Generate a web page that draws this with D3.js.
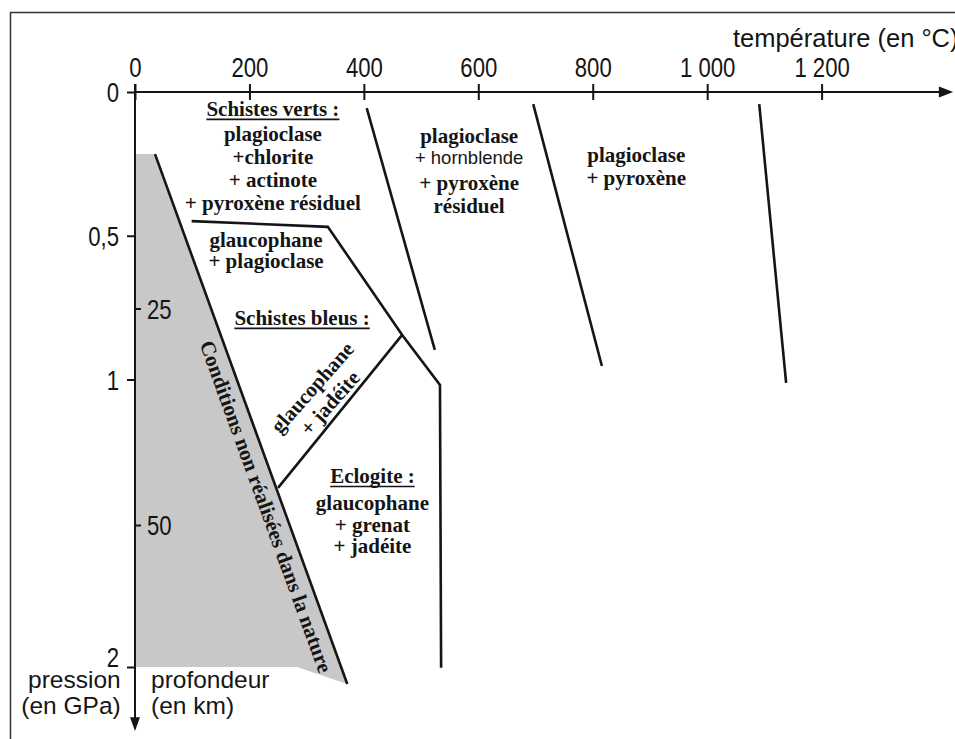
<!DOCTYPE html>
<html><head><meta charset="utf-8">
<script src="https://cdn.jsdelivr.net/npm/d3@7"></script>
<style>body{margin:0;background:#fff} svg{display:block}</style>
</head><body><svg id="c" width="955" height="739"></svg>
<script>
// ---- data (temperature °C, pressure GPa) ----
const tempTicks = [0, 200, 400, 600, 800, 1000, 1200];
const tempTickLabels = ["0", "200", "400", "600", "800", "1 000", "1 200"];
const pressTicks = [0, 0.5, 1, 2];
const pressTickLabels = ["0", "0,5", "1", "2"];
const depthTicks = [25, 50];

const grayZone = [[0, 0.216], [35, 0.216], [371, 2.059], [283, 2.0], [0, 2.0]];
const limitLine = [[35, 0.216], [371, 2.059]];
const vertsBoundary = [[99, 0.449], [337, 0.469], [467, 0.845], [533, 1.019], [535, 2.003]];
const bleusBoundary = [[467, 0.845], [250, 1.377]];
const isoA = [[405, 0.056], [524, 0.897]];
const isoB = [[696, 0.042], [816, 0.953]];
const isoC = [[1091, 0.042], [1138, 1.012]];

// label anchors [T, P, text, kind]
const serifLabels = [
  [241, 0.083, "Schistes verts :", "u"],
  [241, 0.172, "plagioclase", ""],
  [241, 0.250, "+chlorite", ""],
  [241, 0.330, "+ actinote", ""],
  [241, 0.410, "+ pyroxène résiduel", ""],
  [229, 0.539, "glaucophane", ""],
  [229, 0.612, "+ plagioclase", ""],
  [584, 0.177, "plagioclase", ""],
  [584, 0.250, "+ hornblende", "sans"],
  [584, 0.341, "+ pyroxène", ""],
  [584, 0.421, "résiduel", ""],
  [876, 0.243, "plagioclase", ""],
  [876, 0.323, "+ pyroxène", ""],
  [292, 0.810, "Schistes bleus :", "u"],
  [415, 1.360, "Eclogite :", "u"],
  [415, 1.454, "glaucophane", ""],
  [415, 1.530, "+ grenat", ""],
  [415, 1.603, "+ jadéite", ""]
];
const rotLabels = [
  [310, 1.028, "glaucophane"],
  [341, 1.082, "+ jadéite"]
];
const limitText = "Conditions non réalisées dans la nature";

// ---- drawing ----
const svg = d3.select("#c");
const x = d3.scaleLinear().domain([0, 1200]).range([135, 821.6]);
const y = d3.scaleLinear().domain([0, 2]).range([92, 667]);
const depth = d3.scaleLinear().domain([0, 50]).range([92, 525]);
const SANS = "'Liberation Sans', Arial, Helvetica, sans-serif";
const SERIF = "'Liberation Serif', 'Times New Roman', serif";
const INK = "#151515";

function squeeze(sel, k) {
  sel.each(function () {
    const w = this.getComputedTextLength();
    d3.select(this).attr("textLength", w * k).attr("lengthAdjust", "spacingAndGlyphs");
  });
}

// frame
svg.append("rect").attr("x", 10.5).attr("y", 12.5).attr("width", 960).attr("height", 740)
  .attr("fill", "none").attr("stroke", "#333").attr("stroke-width", 1.5);

const line = d3.line().x(d => x(d[0])).y(d => y(d[1]));

// gray zone
svg.append("path").attr("d", line(grayZone) + "Z").attr("fill", "#c8c8c8").attr("stroke", "none");

// boundaries
[limitLine, vertsBoundary, bleusBoundary, isoA, isoB, isoC].forEach(pts => {
  svg.append("path").attr("d", line(pts)).attr("fill", "none").attr("stroke", INK)
    .attr("stroke-width", 2.6).attr("stroke-linejoin", "miter");
});

// x axis
svg.append("line").attr("x1", x(0)).attr("x2", x(1410)).attr("y1", y(0)).attr("y2", y(0))
  .attr("stroke", INK).attr("stroke-width", 2);
svg.append("path").attr("d", `M${x(1430)},${y(0)}L${x(1405)},${y(0) - 5.5}L${x(1405)},${y(0) + 5.5}Z`).attr("fill", INK);
const gx = svg.append("g").attr("transform", `translate(0,${y(0)})`)
  .call(d3.axisTop(x).tickValues(tempTicks).tickFormat((d, i) => tempTickLabels[i]).tickSize(8).tickPadding(7));
gx.select(".domain").remove();
gx.selectAll(".tick line").attr("y1", 8).attr("y2", -8).attr("stroke", INK).attr("stroke-width", 2);
gx.selectAll(".tick text").attr("font-family", SANS).attr("font-size", 27).attr("fill", INK).call(squeeze, 0.82);

// y axis (pressure)
svg.append("line").attr("x1", x(0)).attr("x2", x(0)).attr("y1", y(-0.028)).attr("y2", y(2.19))
  .attr("stroke", INK).attr("stroke-width", 2);
svg.append("path").attr("d", `M${x(0)},${y(2.223)}L${x(0) - 5},${y(2.175)}L${x(0) + 5},${y(2.175)}Z`).attr("fill", INK);
const gy = svg.append("g").attr("transform", `translate(${x(0)},0)`)
  .call(d3.axisLeft(y).tickValues(pressTicks).tickFormat((d, i) => pressTickLabels[i]).tickSize(8).tickPadding(8));
gy.select(".domain").remove();
gy.selectAll(".tick line").attr("stroke", INK).attr("stroke-width", 2);
gy.selectAll(".tick text").attr("font-family", SANS).attr("font-size", 27).attr("fill", INK)
  .attr("dy", d => d === 2 ? "-0.02em" : "0.36em").call(squeeze, 0.82);

// depth axis
const gd = svg.append("g").attr("transform", `translate(${x(0)},0)`)
  .call(d3.axisRight(depth).tickValues(depthTicks).tickSize(6).tickPadding(6));
gd.select(".domain").remove();
gd.selectAll(".tick line").attr("stroke", INK).attr("stroke-width", 2);
gd.selectAll(".tick text").attr("font-family", SANS).attr("font-size", 27).attr("fill", INK)
  .attr("dy", "0.36em").call(squeeze, 0.82);

// axis titles
function sansText(px, py, str, anchor, size) {
  return svg.append("text").attr("x", px).attr("y", py).attr("text-anchor", anchor)
    .attr("font-family", SANS).attr("font-size", size).attr("fill", INK).text(str);
}
sansText(x(1045), y(-0.157), "température (en °C)", "start", 25.5);
sansText(x(-25), y(2.073), "pression", "end", 24.5);
sansText(x(-25), y(2.162), "(en GPa)", "end", 24.5);
sansText(x(28), y(2.073), "profondeur", "start", 24.5);
sansText(x(28), y(2.162), "(en km)", "start", 24.5);

// region labels
serifLabels.forEach(([T, P, str, kind]) => {
  const t = svg.append("text").attr("x", x(T)).attr("y", y(P)).attr("text-anchor", "middle")
    .attr("fill", INK).text(str);
  if (kind === "sans") {
    t.attr("font-family", SANS).attr("font-size", 18.5);
  } else {
    t.attr("font-family", SERIF).attr("font-weight", "bold").attr("font-size", 21);
  }
  if (kind === "u") {
    const w = t.node().getComputedTextLength();
    svg.append("line").attr("x1", x(T) - w / 2).attr("x2", x(T) + w / 2)
      .attr("y1", y(P) + 3.5).attr("y2", y(P) + 3.5).attr("stroke", INK).attr("stroke-width", 1.6);
  }
});

// rotated labels in blue-schist band
rotLabels.forEach(([T, P, str]) => {
  svg.append("text").attr("transform", `translate(${x(T)},${y(P)}) rotate(-48.5)`)
    .attr("text-anchor", "middle").attr("dominant-baseline", "central")
    .attr("font-family", SERIF).attr("font-weight", "bold").attr("font-size", 21)
    .attr("fill", INK).text(str);
});

// text along limit line
{
  const p0 = [x(limitLine[0][0]), y(limitLine[0][1])];
  const p1 = [x(limitLine[1][0]), y(limitLine[1][1])];
  const a = Math.atan2(p1[1] - p0[1], p1[0] - p0[0]);
  const t = 0.655, off = 16;
  const cx = p0[0] + (p1[0] - p0[0]) * t - Math.sin(a) * off;
  const cy = p0[1] + (p1[1] - p0[1]) * t + Math.cos(a) * off;
  svg.append("text").attr("transform", `translate(${cx},${cy}) rotate(${a * 180 / Math.PI})`)
    .attr("text-anchor", "middle").attr("dominant-baseline", "central")
    .attr("font-family", SERIF).attr("font-weight", "bold").attr("font-size", 21)
    .attr("fill", INK).text(limitText);
}
</script></body></html>
